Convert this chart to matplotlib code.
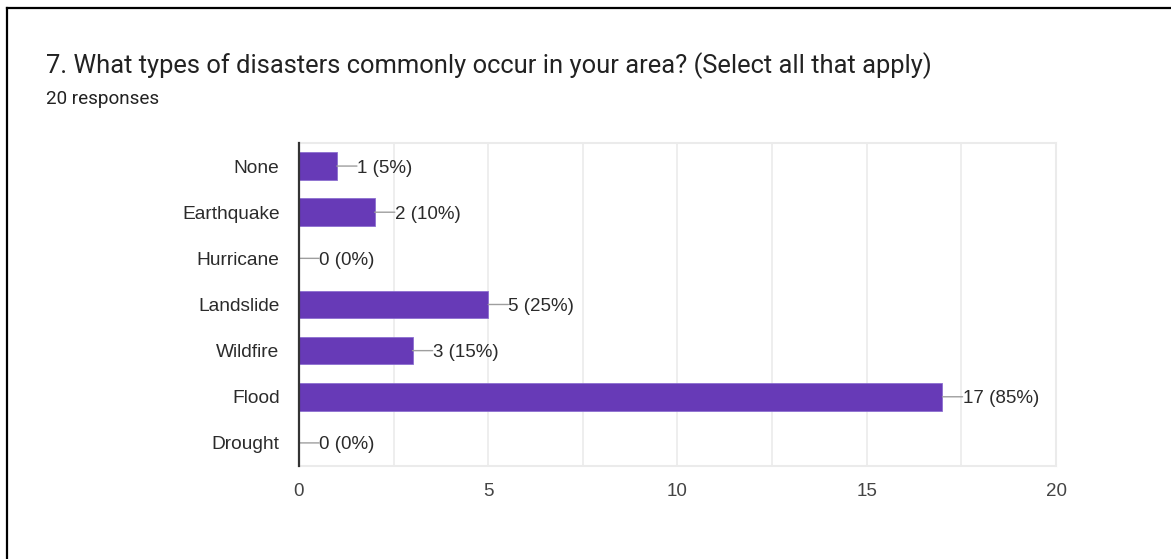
import matplotlib
matplotlib.use('Agg')
import matplotlib.pyplot as plt
from matplotlib.ticker import MultipleLocator

# Survey question 7 results
categories = ['None', 'Earthquake', 'Hurricane', 'Landslide', 'Wildfire', 'Flood', 'Drought']
counts = [1, 2, 0, 5, 3, 17, 0]
total_responses = 20

title = '7. What types of disasters commonly occur in your area? (Select all that apply)'
subtitle = f'{total_responses} responses'

BAR_COLOR = '#673ab7'
TEXT_COLOR = '#222222'
LABEL_COLOR = '#2b2b2b'
GRID_COLOR = '#ebebeb'

fig = plt.figure(figsize=(11.71, 5.59), dpi=100)
fig.patch.set_facecolor('white')

ax = fig.add_axes([0.2553, 0.1664, 0.6465, 0.5778])

ypos = list(range(len(categories)))
ax.barh(ypos, counts, height=0.6, color=BAR_COLOR, edgecolor='#8c6fd0',
        linewidth=0.6, zorder=3)

# value labels with a short leader line
for y, c in zip(ypos, counts):
    pct = round(100 * c / total_responses)
    ax.annotate('', xy=(c, y), xytext=(14.5, 0), textcoords='offset points',
                arrowprops=dict(arrowstyle='-', color='#9e9e9e', lw=1.0,
                                shrinkA=0, shrinkB=0), zorder=4)
    ax.annotate(f'{c} ({pct}%)', xy=(c, y), xytext=(14.5, 0),
                textcoords='offset points', va='center_baseline', ha='left',
                fontsize=13.5, color=LABEL_COLOR, family='Liberation Sans')

ax.set_xlim(0, 20)
ax.set_ylim(len(categories) - 0.5, -0.5)
ax.set_yticks(ypos)
ax.set_yticklabels(categories, fontsize=13.8, color=LABEL_COLOR,
                   family='Liberation Sans', va='center_baseline')
ax.xaxis.set_major_locator(MultipleLocator(5))
ax.xaxis.set_minor_locator(MultipleLocator(2.5))
for lbl in ax.get_xticklabels():
    lbl.set_family('Liberation Sans')
ax.tick_params(axis='x', labelsize=13.5, labelcolor='#444444', length=0, pad=12)
ax.tick_params(axis='x', which='minor', length=0)
ax.tick_params(axis='y', length=0, pad=14)
ax.grid(axis='x', which='both', color=GRID_COLOR, linewidth=1.2, zorder=0)

for side in ['top', 'right', 'bottom']:
    ax.spines[side].set_color(GRID_COLOR)
    ax.spines[side].set_linewidth(1.5)
ax.spines['left'].set_color('#333333')
ax.spines['left'].set_linewidth(1.6)
ax.spines['left'].set_zorder(5)

fig.text(46 / 1171, 1 - 66 / 559, title, fontsize=18.4, color=TEXT_COLOR,
         family='Roboto', va='center', ha='left')
fig.text(46 / 1171, 1 - 99 / 559, subtitle, fontsize=13.6, color=TEXT_COLOR,
         family='Roboto', va='center', ha='left')

# screenshot frame: left and top edges
fig.add_artist(plt.Line2D([7 / 1171, 7 / 1171], [0, 1 - 7.5 / 559],
                          transform=fig.transFigure, color='black', lw=1.6))
fig.add_artist(plt.Line2D([6.5 / 1171, 1], [1 - 7.5 / 559, 1 - 7.5 / 559],
                          transform=fig.transFigure, color='black', lw=1.6))

fig.savefig('out.png', dpi=100, facecolor='white')
